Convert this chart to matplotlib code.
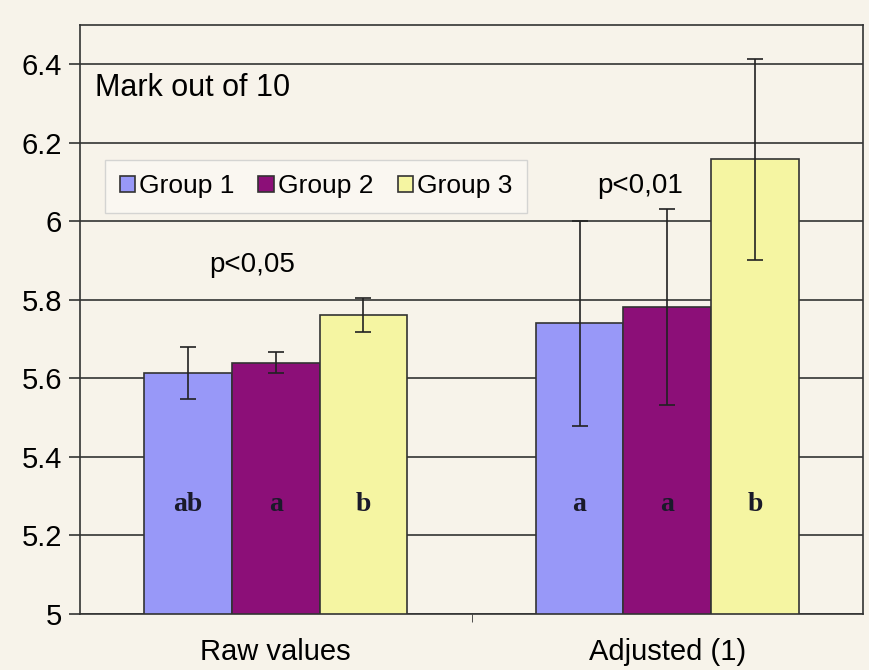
import matplotlib.pyplot as plt
import numpy as np

categories = ["Raw values", "Adjusted (1)"]
groups = ["Group 1", "Group 2", "Group 3"]
means = [
    [5.613, 5.740],
    [5.640, 5.782],
    [5.761, 6.158],
]
errors = [
    [0.066, 0.262],
    [0.026, 0.250],
    [0.043, 0.256],
]
letters = [
    ["ab", "a"],
    ["a", "a"],
    ["b", "b"],
]
colors = ["#9898f8", "#8c0f78", "#f5f5a2"]
bg = "#f7f3ea"

plt.rcParams['font.family'] = ['Liberation Sans', 'DejaVu Sans']

fig = plt.figure(figsize=(8.69, 6.7), dpi=100, facecolor=bg)
ax = fig.add_axes([80 / 869, 1 - 614 / 670, 783 / 869, 589 / 670])
ax.set_facecolor(bg)

x = np.arange(len(categories))
w = 0.224
for i in range(3):
    pos = x + (i - 1) * w
    ax.bar(pos, means[i], w, bottom=0, color=colors[i], edgecolor="#333333",
           linewidth=1.2, label=groups[i], zorder=2)
    ax.errorbar(pos, means[i], yerr=errors[i], fmt="none", ecolor="#222222",
                elinewidth=1.2, capsize=6, capthick=1.2, zorder=3)
    for j in range(len(categories)):
        ax.text(pos[j], 5.28, letters[i][j], ha="center", va="center",
                fontsize=20, fontweight="bold", family="Liberation Serif",
                color="#1a1a2a", zorder=4)

ax.set_ylim(5, 6.5)
ax.set_xlim(-0.5, 1.5)
ax.set_yticks([5, 5.2, 5.4, 5.6, 5.8, 6, 6.2, 6.4])
ax.set_yticklabels(["5", "5.2", "5.4", "5.6", "5.8", "6", "6.2", "6.4"], fontsize=21)
ax.yaxis.grid(True, color="#333333", linewidth=1.2, zorder=0)
ax.set_axisbelow(True)
ax.tick_params(axis="y", length=8, width=1.2, color="#333333", pad=5)
ax.set_xticks([0.5], minor=True)
ax.set_xticks(x)
ax.set_xticklabels(categories, fontsize=21)
ax.tick_params(axis="x", which="major", length=0, pad=17)
ax.tick_params(axis="x", which="minor", length=6, color="#333333")
for s in ax.spines.values():
    s.set_color("#333333")
    s.set_linewidth(1.2)

ax.text(0.019, 0.893, "Mark out of 10", transform=ax.transAxes, fontsize=22,
        ha="left", va="center")
ax.text(-0.06, 5.888, "p<0,05", fontsize=20, ha="center", va="center")
ax.text(0.93, 6.09, "p<0,01", fontsize=20, ha="center", va="center")

leg = ax.legend(loc="upper left", bbox_to_anchor=(0.032, 0.771), ncol=3,
                fontsize=19, frameon=True, fancybox=False, handlelength=0.6,
                handleheight=0.6, handletextpad=0.15, columnspacing=0.9,
                borderpad=0.55, borderaxespad=0, edgecolor="#cccccc")
leg.get_frame().set_facecolor("#fbf9f4")
leg.get_frame().set_linewidth(1.0)
leg.set_zorder(5)

fig.savefig("out.png", dpi=100, facecolor=bg)
